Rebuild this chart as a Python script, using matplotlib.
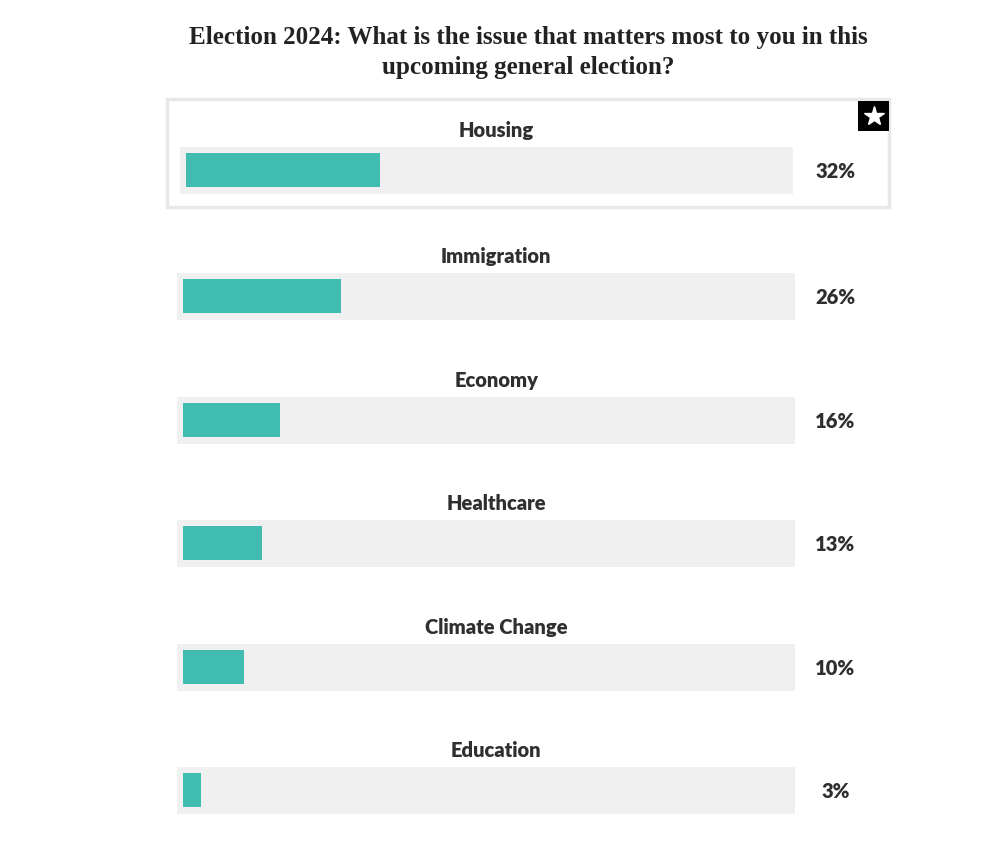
import matplotlib
matplotlib.use("Agg")
import matplotlib.pyplot as plt
from matplotlib.patches import Rectangle

categories = ["Housing", "Immigration", "Economy", "Healthcare", "Climate Change", "Education"]
values = [32, 26, 16, 13, 10, 3]
labels = ["32%", "26%", "16%", "13%", "10%", "3%"]
highlight = "Housing"

title = "Election 2024: What is the issue that matters most to you in this\nupcoming general election?"

W, H = 992, 852
PX = 6.06          # pixels per percent
X0 = 183           # pixel of 0 %
row_tops = [147, 273, 397, 520, 644, 767]

fig = plt.figure(figsize=(W / 100, H / 100), dpi=100)
ax = fig.add_axes([0, 0, 1, 1])
ax.set_xlim(-X0 / PX, (W - X0) / PX)
ax.set_ylim(H, 0)
ax.axis("off")

teal = "#40BDB0"
track = "#F0F0F0"
text_c = "#2f2f2f"

track_h = 46.5
bar_h = 34

for i, (cat, v, lab) in enumerate(zip(categories, values, labels)):
    yc = row_tops[i] + track_h / 2
    hl = cat == highlight
    tl = -1.0 if not hl else -0.5
    tw = 102.0 if not hl else 101.2
    off = 0.5 if hl else 0.0
    ax.barh(yc, tw, left=tl, height=track_h, color=track, edgecolor="none", zorder=1)
    ax.barh(yc, v, left=off, height=bar_h, color=teal, edgecolor="none", zorder=2)
    ax.text(51.7, yc - 40, cat, ha="center", va="center", fontsize=14.5,
            fontweight="heavy", family="Lato", color=text_c, zorder=3)
    ax.text((835.5 - X0) / PX, yc + 1, lab, ha="center", va="center", fontsize=14.5,
            fontweight="heavy", family="Lato", color=text_c, zorder=3)
    if hl:
        # highlighted card
        x1 = (167 - X0) / PX
        x2 = (889 - X0) / PX
        ax.add_patch(Rectangle((x1, 99), x2 - x1, 108, facecolor="none",
                               edgecolor="#E8E8E8", linewidth=2.5, zorder=0))
        sx1 = (858 - X0) / PX
        sx2 = (889 - X0) / PX
        ax.add_patch(Rectangle((sx1, 101), sx2 - sx1, 30, facecolor="black",
                               edgecolor="none", zorder=3))
        ax.plot([(sx1 + sx2) / 2], [116], marker="*", markersize=15,
                color="white", markeredgecolor="white", zorder=4)

ax.text((528 - X0) / PX, 52.5, title, ha="center", va="center", fontsize=18.1,
        fontweight="bold", family="Liberation Serif", color="#222222",
        linespacing=1.35)

fig.savefig("out.png", dpi=100, facecolor="white")
